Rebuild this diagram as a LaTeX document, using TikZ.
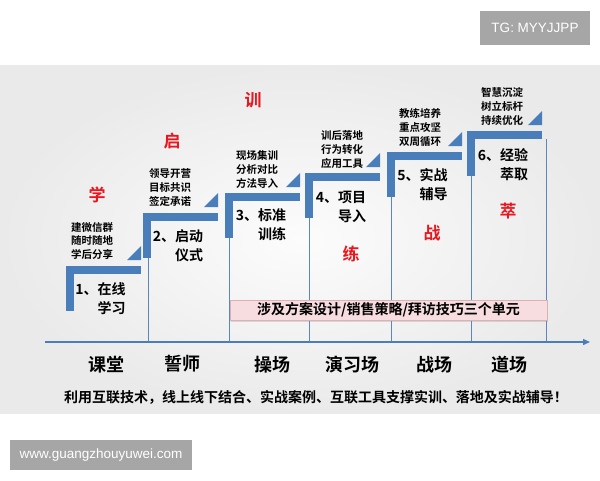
\documentclass[tikz,border=0pt]{standalone}
\usepackage{fontspec}
\setmainfont{Noto Sans CJK SC}[BoldFont={Noto Sans CJK SC Bold}]
\newfontfamily\latin{Liberation Sans}
\usetikzlibrary{shadows,arrows.meta}
\definecolor{stepblue}{RGB}{74,126,187}
\definecolor{lineblue}{RGB}{90,135,192}
\definecolor{redch}{RGB}{232,22,30}
\definecolor{panelin}{RGB}{252,252,252}
\definecolor{panelout}{RGB}{234,234,234}
\definecolor{badge}{RGB}{166,166,166}
\definecolor{pinkfill}{RGB}{247,221,224}
\definecolor{pinkline}{RGB}{222,176,182}
\tikzset{
  redword/.style={text=redch, font=\fontsize{17}{17}\selectfont\bfseries, inner sep=0pt},
  smalltxt/.style={font=\fontsize{10.5}{13.6}\selectfont\bfseries, align=center, inner sep=0pt},
  steplbl/.style={font=\fontsize{14}{19}\selectfont\bfseries, align=right, inner sep=0pt},
  fieldlbl/.style={font=\fontsize{18}{18}\selectfont\bfseries, inner sep=0pt},
  thinline/.style={draw=lineblue, line width=0.8pt},
  badgebox/.style={fill=badge, text=white, font=\latin\fontsize{13.5}{13.5}\selectfont, inner sep=0pt},
  pinkbox/.style={fill=pinkfill, draw=pinkline, line width=0.6pt, minimum width=317pt, minimum height=20pt, inner sep=0pt,
     font=\fontsize{14}{14}\selectfont\bfseries,
     drop shadow={opacity=0.25, shadow xshift=1pt, shadow yshift=-1.5pt}}
}
\begin{document}
\begin{tikzpicture}[x=1pt,y=-1pt]
\useasboundingbox (0,0) rectangle (600,480);
\fill[white] (0,0) rectangle (600,480);
\shade[inner color=panelin, outer color=panelout] (0,65) rectangle (600,413);
% badges
\node[badgebox, minimum width=110pt, minimum height=34pt] (tg) at (535,28) {TG: MYYJJPP};
\node[badgebox, minimum width=182pt, minimum height=30pt] (web) at (101,455) {www.guangzhouyuwei.com};
% thin vertical lines
\foreach \x/\y in {148/213,229/193,309/173,391/152,471/131,546/139}
  \draw[thinline] (\x,\y) -- (\x,342);
% axis
\coordinate (ax0) at (45,342);
\coordinate (ax1) at (590,342);
\draw[stepblue, line width=1.4pt, -{Triangle[length=7pt,width=6pt]}] (ax0) -- (ax1);
% steps
\foreach \x/\y in {66/266,143/213,225/193,305/173,387/152,467/131} {
  \fill[stepblue] (\x,\y) rectangle ++(75,8);
  \fill[stepblue] (\x,\y) rectangle ++(8,45);
  \fill[stepblue] (\x+75,\y-6) -- ++(0,-14) -- ++(-14,14) -- cycle;
}
% step labels
\node[steplbl] (s1) at (100.5,298.5) {1、在线\\学习};
\node[steplbl] (s2) at (178,246) {2、启动\\仪式};
\node[steplbl] (s3) at (261,224.5) {3、标准\\训练};
\node[steplbl] (s4) at (341,207) {4、项目\\导入};
\node[steplbl] (s5) at (422.5,185) {5、实战\\辅导};
\node[steplbl] (s6) at (503,165) {6、经验\\萃取};
% small texts
\node[smalltxt] (t1) at (92,241) {建微信群\\随时随地\\学后分享};
\node[smalltxt] (t2) at (170,187.5) {领导开营\\目标共识\\签定承诺};
\node[smalltxt] (t3) at (257,169.5) {现场集训\\分析对比\\方法导入};
\node[smalltxt] (t4) at (342,149.5) {训后落地\\行为转化\\应用工具};
\node[smalltxt] (t5) at (420,127.5) {教练培养\\重点攻坚\\双周循环};
\node[smalltxt] (t6) at (502,106.5) {智慧沉淀\\树立标杆\\持续优化};
% red words
\node[redword] (r1) at (97,195) {学};
\node[redword] (r2) at (172,141) {启};
\node[redword] (r3) at (253,100) {训};
\node[redword] (r4) at (351,254) {练};
\node[redword] (r5) at (432,233) {战};
\node[redword] (r6) at (508,211) {萃};
% pink unit bar
\node[pinkbox] (unit) at (388.5,310) {涉及方案设计/销售策略/拜访技巧三个单元};
% field labels
\node[fieldlbl] (f1) at (106,365) {课堂};
\node[fieldlbl] (f2) at (182,364) {誓师};
\node[fieldlbl] (f3) at (272,365) {操场};
\node[fieldlbl] (f4) at (352,365) {演习场};
\node[fieldlbl] (f5) at (434,365) {战场};
\node[fieldlbl] (f6) at (509,365) {道场};
% bottom sentence
\node[font=\fontsize{14}{14}\selectfont\bfseries, inner sep=0pt] (summary) at (316,397)
  {利用互联技术，线上线下结合、实战案例、互联工具支撑实训、落地及实战辅导！};
\end{tikzpicture}
\end{document}
